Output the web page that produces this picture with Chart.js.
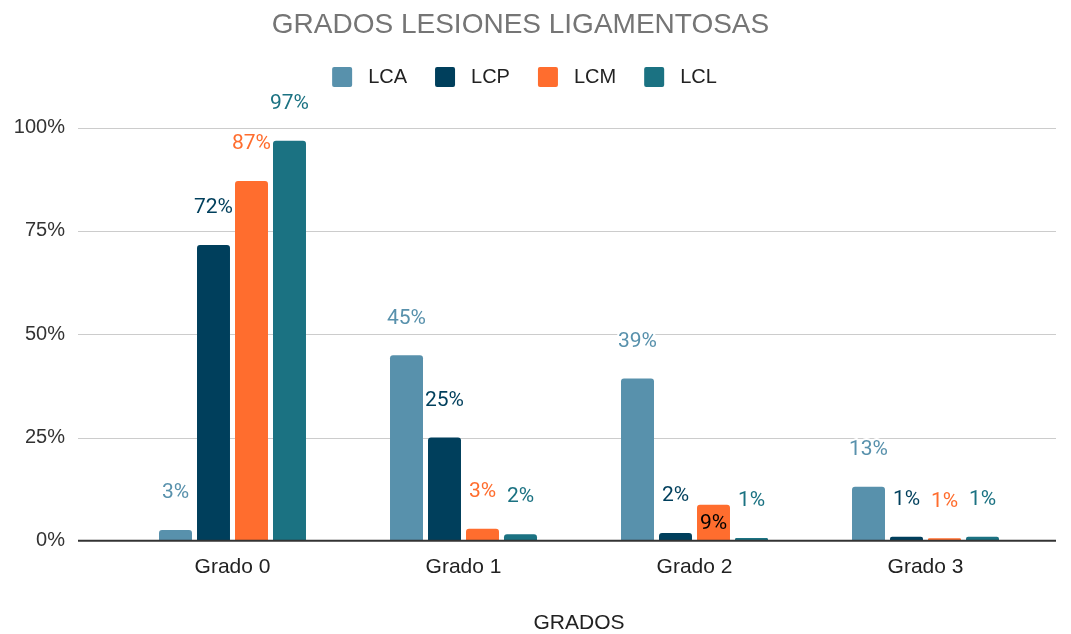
<!DOCTYPE html>
<html>
<head>
<meta charset="utf-8">
<script src="https://cdn.jsdelivr.net/npm/chart.js@4"></script>
<style>
  body { margin: 0; background: #fff; }
  canvas { display: block; }
</style>
</head>
<body>
<canvas id="chart" width="1071" height="634"></canvas>
<script>
const categories = ['Grado 0', 'Grado 1', 'Grado 2', 'Grado 3'];
const seriesNames = ['LCA', 'LCP', 'LCM', 'LCL'];
const lca = [2.6, 44.9, 39.3, 13.1];
const lcp = [71.6, 25.0, 1.9, 1.0];
const lcm = [87.1, 2.9, 8.7, 0.6];
const lcl = [96.8, 1.6, 0.7, 1.0];
const yTicks = [0, 25, 50, 75, 100];
const colors = ['#5891ac', '#003f5c', '#ff6d2e', '#1b7282'];

// labels Google drew inside the bar instead of above it: [dataset, index]
const insideLabels = [[2, 2]];

const sansFont = '"Liberation Sans", Arial, sans-serif';

const gridPlugin = {
    id: 'grid',
    beforeDatasetsDraw(chart) {
        const { ctx, chartArea, scales } = chart;
        ctx.save();
        ctx.strokeStyle = '#cccccc';
        ctx.lineWidth = 1;
        yTicks.forEach(t => {
            if (t === 0) return;
            const y = Math.round(scales.y.getPixelForValue(t)) + 0.5;
            ctx.beginPath();
            ctx.moveTo(chartArea.left - 39, y);
            ctx.lineTo(chartArea.right + 15, y);
            ctx.stroke();
        });
        ctx.restore();
    },
    afterDatasetsDraw(chart) {
        const { ctx, chartArea, scales } = chart;
        const y = scales.y.getPixelForValue(0);
        ctx.save();
        ctx.strokeStyle = '#333333';
        ctx.lineWidth = 2;
        ctx.beginPath();
        ctx.moveTo(chartArea.left - 39, y);
        ctx.lineTo(chartArea.right + 15, y);
        ctx.stroke();
        ctx.restore();
    }
};

const valueLabels = {
    id: 'valueLabels',
    afterDraw(chart) {
        const ctx = chart.ctx;
        ctx.save();
        ctx.font = '21px Roboto, sans-serif';
        ctx.textAlign = 'center';
        ctx.textBaseline = 'middle';
        chart.data.datasets.forEach((ds, di) => {
            chart.getDatasetMeta(di).data.forEach((bar, i) => {
                const text = Math.round(ds.data[i]) + '%';
                const inside = insideLabels.some(p => p[0] === di && p[1] === i);
                if (inside) {
                    ctx.fillStyle = '#000';
                    ctx.fillText(text, bar.x, bar.y + 19);
                } else {
                    const y = bar.y - 37;
                    ctx.strokeStyle = '#fff';
                    ctx.lineWidth = 4;
                    ctx.lineJoin = 'round';
                    ctx.strokeText(text, bar.x, y);
                    ctx.fillStyle = ds.backgroundColor;
                    ctx.fillText(text, bar.x, y);
                }
            });
        });
        ctx.restore();
    }
};

const legendPlugin = {
    id: 'customLegend',
    afterDraw(chart) {
        const ctx = chart.ctx;
        ctx.save();
        ctx.font = '20px ' + sansFont;
        ctx.textBaseline = 'middle';
        const box = 20, gap = 16, itemGap = 28;
        const widths = chart.data.datasets.map(ds => box + gap + ctx.measureText(ds.label).width);
        const total = widths.reduce((a, b) => a + b, 0) + itemGap * (widths.length - 1);
        let x = (chart.width - 30) / 2 + 4 - total / 2;
        const cy = 77;
        chart.data.datasets.forEach((ds, i) => {
            ctx.fillStyle = ds.backgroundColor;
            ctx.beginPath();
            ctx.roundRect(x, cy - box / 2, box, box, 2);
            ctx.fill();
            ctx.fillStyle = '#222';
            ctx.fillText(ds.label, x + box + gap, cy);
            x += widths[i] + itemGap;
        });
        ctx.restore();
    }
};

const seriesData = [lca, lcp, lcm, lcl];

new Chart(document.getElementById('chart'), {
    type: 'bar',
    data: {
        labels: categories,
        datasets: seriesNames.map((name, i) => ({
            label: name,
            data: seriesData[i],
            backgroundColor: colors[i],
            borderRadius: 3,
            barPercentage: 0.868,
            categoryPercentage: 0.658
        }))
    },
    options: {
        responsive: false,
        devicePixelRatio: 1,
        animation: false,
        layout: { padding: { left: 0, right: 30, top: 0, bottom: 0 } },
        plugins: {
            legend: { display: false },
            tooltip: { enabled: false },
            title: {
                display: true,
                text: 'GRADOS LESIONES LIGAMENTOSAS',
                color: '#757575',
                font: { family: sansFont, size: 28, weight: 'normal' },
                padding: { top: 8, bottom: 86 }
            }
        },
        scales: {
            x: {
                grid: { display: false },
                border: { display: false },
                ticks: { color: '#222', font: { family: sansFont, size: 21 }, padding: 6 },
                title: {
                    display: true,
                    text: 'GRADOS',
                    color: '#222',
                    font: { family: sansFont, size: 21, lineHeight: 1 },
                    padding: { top: 27, bottom: 0 }
                }
            },
            y: {
                min: 0,
                max: 100,
                grid: { display: false },
                border: { display: false },
                afterFit(scale) { scale.width = 117; },
                afterBuildTicks(scale) { scale.ticks = yTicks.map(v => ({ value: v })); },
                ticks: {
                    color: '#333',
                    font: { family: sansFont, size: 20 },
                    padding: 44,
                    callback: v => v + '%'
                }
            }
        }
    },
    plugins: [gridPlugin, valueLabels, legendPlugin]
});
</script>
</body>
</html>
